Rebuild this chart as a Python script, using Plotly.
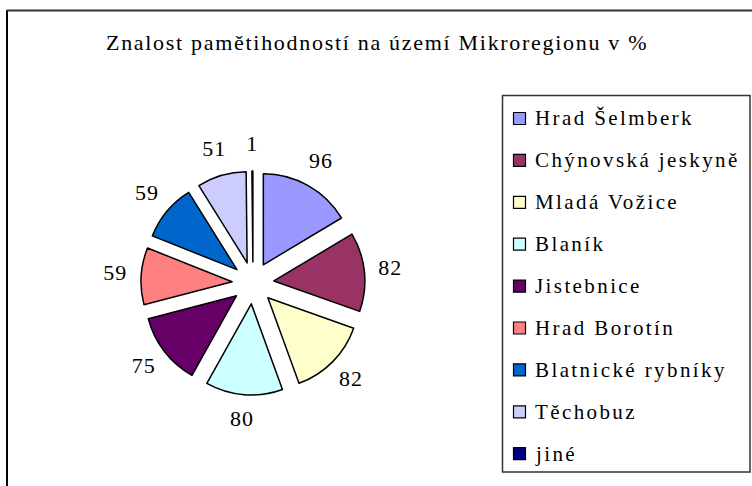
import plotly.graph_objects as go

W, H = 752, 486

labels = ["Hrad Šelmberk", "Chýnovská jeskyně", "Mladá Vožice", "Blaník",
          "Jistebnice", "Hrad Borotín", "Blatnické rybníky", "Těchobuz", "jiné"]
values = [96, 82, 82, 80, 75, 59, 59, 51, 1]
colors = ["#9999FF", "#993366", "#FFFFCC", "#CCFFFF", "#660066",
          "#FF8080", "#0066CC", "#CCCCFF", "#000080"]
title_text = "Znalost pamětihodností na území Mikroregionu v %"

FONT = "Liberation Serif"

def px_x(v):
    return v / W

def px_y(v):
    return 1 - v / H

CX, CY = 253, 283       # pie centre (px)
HALF = 112              # half size of pulled pie box
POL = 150               # half size of the label polar frame (px)
LABEL_R = 138           # label ring radius (px, in polar units)

n = len(values)
total = sum(values)
# mid-angle of every slice (degrees, clockwise from 12 o'clock)
mid_angles = []
acc = 0
for v in values:
    mid_angles.append((acc + v / 2) / total * 360)
    acc += v

fig = go.Figure()
fig.add_trace(go.Pie(
    labels=labels, values=values, sort=False, direction="clockwise",
    rotation=0, pull=[0.23] * n,
    marker=dict(colors=colors, line=dict(color="black", width=1.5)),
    textinfo="none", showlegend=False, hoverinfo="label+value",
    domain=dict(x=[px_x(CX - HALF), px_x(CX + HALF)],
                y=[px_y(CY + HALF), px_y(CY - HALF)]),
))
# value labels placed around the pie through a hidden polar axis
fig.add_trace(go.Scatterpolar(
    r=[LABEL_R] * n, theta=mid_angles, mode="text",
    text=[f'<span style="letter-spacing:1px">{v}</span>' for v in values],
    textposition="middle center",
    textfont=dict(family=FONT, size=22, color="black"),
    showlegend=False, hoverinfo="skip",
))

shapes = []
# outer chart frame (cropped on right/bottom)
shapes.append(dict(type="line", xref="paper", yref="paper",
                   x0=px_x(7), x1=px_x(7), y0=px_y(10), y1=px_y(H + 10),
                   line=dict(color="black", width=2)))
shapes.append(dict(type="line", xref="paper", yref="paper",
                   x0=px_x(7), x1=px_x(W + 10), y0=px_y(10.5), y1=px_y(10.5),
                   line=dict(color="#333333", width=2)))
# legend box
shapes.append(dict(type="rect", xref="paper", yref="paper",
                   x0=px_x(502.5), x1=px_x(750), y0=px_y(472), y1=px_y(95.5),
                   line=dict(color="#333333", width=1.5), fillcolor="white",
                   layer="below"))

annotations = []
y0, step = 118.5, 41.9
for i, (lab, col) in enumerate(zip(labels, colors)):
    cy = y0 + i * step
    shapes.append(dict(type="rect", xref="paper", yref="paper",
                       x0=px_x(513.5), x1=px_x(525.5),
                       y0=px_y(cy + 6), y1=px_y(cy - 6),
                       line=dict(color="black", width=1.2), fillcolor=col))
    annotations.append(dict(
        xref="paper", yref="paper", x=px_x(533), y=px_y(cy),
        xanchor="left", yanchor="middle", showarrow=False,
        text=f'<span style="letter-spacing:2.4px">{lab}</span>',
        font=dict(family=FONT, size=21, color="black")))

annotations.append(dict(
    xref="paper", yref="paper", x=px_x(377), y=px_y(43),
    xanchor="center", yanchor="middle", showarrow=False,
    text=f'<span style="letter-spacing:1.7px">{title_text}</span>',
    font=dict(family=FONT, size=22, color="black")))

fig.update_layout(
    width=W, height=H,
    margin=dict(l=0, r=0, t=0, b=0),
    paper_bgcolor="white",
    plot_bgcolor="white",
    font=dict(family=FONT, color="black"),
    polar=dict(
        domain=dict(x=[px_x(CX - POL), px_x(CX + POL)],
                    y=[px_y(CY + POL), px_y(CY - POL)]),
        bgcolor="rgba(0,0,0,0)",
        radialaxis=dict(visible=False, range=[0, POL], showgrid=False,
                        showline=False, showticklabels=False, ticks=""),
        angularaxis=dict(visible=False, rotation=90, direction="clockwise",
                         showgrid=False, showline=False,
                         showticklabels=False, ticks=""),
    ),
    shapes=shapes,
    annotations=annotations,
    showlegend=False,
)

fig.write_html("out.html", config={"displayModeBar": False},
               post_script="document.body.style.margin='0';document.body.style.overflow='hidden';")
